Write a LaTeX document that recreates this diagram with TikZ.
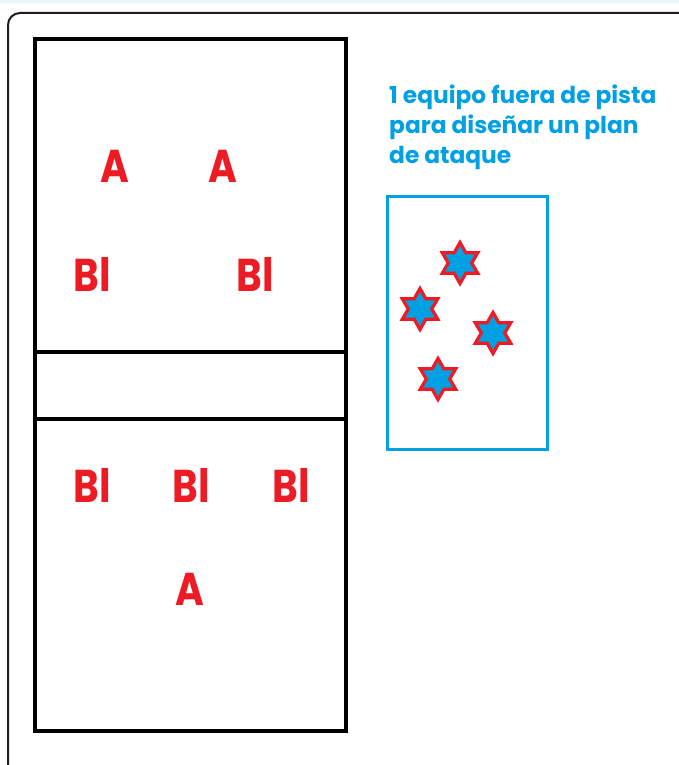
\documentclass[tikz,border=0pt]{standalone}
\usepackage{fontspec}
\setmainfont{Poppins}
\usetikzlibrary{shapes.geometric}
\definecolor{cyanb}{RGB}{0,160,227}
\definecolor{redl}{RGB}{237,28,36}
\definecolor{frame}{RGB}{30,30,30}
\tikzset{
  court/.style={draw=black, line width=4pt},
  player/.style={text=redl, font=\fontsize{46}{46}\selectfont\bfseries, inner sep=0pt, xscale=0.85},
  starp/.style={star, star points=6, star point ratio=1.75, draw=redl, fill=cyanb, line width=3.2pt, minimum size=41pt, inner sep=0pt},
  note/.style={text=cyanb, font=\fontsize{23.3}{30}\selectfont\bfseries, align=left, anchor=north west, inner sep=0pt}
}
\begin{document}
\begin{tikzpicture}[x=1pt,y=-1pt]
\useasboundingbox (0,0) rectangle (679,765);
\clip (0,0) rectangle (679,765);
\fill[white] (0,0) rectangle (679,765);
\fill[cyanb!8] (0,0) rectangle (679,3);
\draw[frame, line width=2pt, rounded corners=12pt] (8,13) rectangle (693,780);
% court
\draw[court] (35,39) rectangle (346,731);
\draw[court] (35,352) -- (346,352);
\draw[court] (35,419) -- (346,419);
% players
\node[player] (a1) at (115,166) {A};
\node[player] (a2) at (223,166) {A};
\node[player] (b1) at (92,274) {Bl};
\node[player] (b2) at (255,274) {Bl};
\node[player] (b3) at (92,485) {Bl};
\node[player] (b4) at (191,485) {Bl};
\node[player] (b5) at (291,485) {Bl};
\node[player] (a3) at (190,589) {A};
% note
\node[note] (txt) at (389,85) {1 equipo fuera de pista\\para diseñar un plan\\de ataque};
% bench box
\draw[cyanb, line width=3pt] (387,196) rectangle (547,449);
\node[starp] (s1) at (460,263) {};
\node[starp] (s2) at (420,309) {};
\node[starp] (s3) at (493,333) {};
\node[starp] (s4) at (438,379) {};
\end{tikzpicture}
\end{document}
